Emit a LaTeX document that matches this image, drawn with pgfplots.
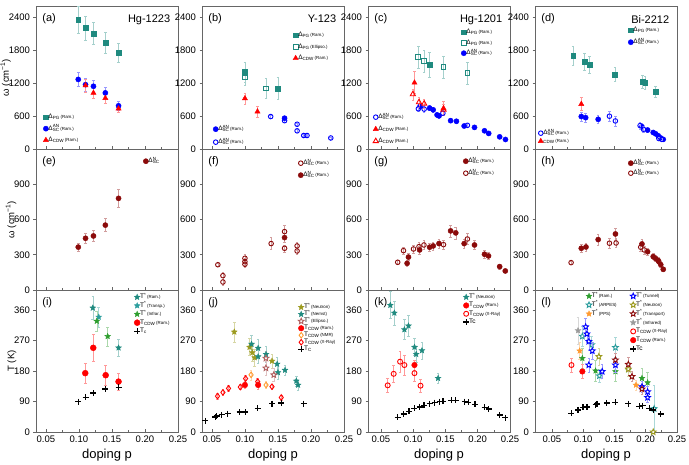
\documentclass[border=0pt]{standalone}
\usepackage{pgfplots}
\pgfplotsset{compat=1.18}
\usepackage{fontspec}
\setmainfont{Liberation Sans}

\definecolor{tl}{HTML}{1F8A7F}
\definecolor{cy}{HTML}{2A9D9D}
\definecolor{bl}{HTML}{0000FF}
\definecolor{rd}{HTML}{FF0000}
\definecolor{dr}{HTML}{8B0A0A}
\definecolor{gr}{HTML}{2E9E2E}
\definecolor{ol}{HTML}{9C9A1E}
\definecolor{og}{HTML}{FF9A30}
\definecolor{gy}{HTML}{9A9A9A}
\definecolor{rb}{HTML}{B06060}

% five-pointed star, filled with the fill colour
\pgfdeclareplotmark{pst}{%
  \pgfpathmoveto{\pgfpointpolar{90}{\pgfplotmarksize}}%
  \pgfpathlineto{\pgfpointpolar{126}{0.45*\pgfplotmarksize}}%
  \pgfpathlineto{\pgfpointpolar{162}{\pgfplotmarksize}}%
  \pgfpathlineto{\pgfpointpolar{198}{0.45*\pgfplotmarksize}}%
  \pgfpathlineto{\pgfpointpolar{234}{\pgfplotmarksize}}%
  \pgfpathlineto{\pgfpointpolar{270}{0.45*\pgfplotmarksize}}%
  \pgfpathlineto{\pgfpointpolar{306}{\pgfplotmarksize}}%
  \pgfpathlineto{\pgfpointpolar{342}{0.45*\pgfplotmarksize}}%
  \pgfpathlineto{\pgfpointpolar{18}{\pgfplotmarksize}}%
  \pgfpathlineto{\pgfpointpolar{54}{0.45*\pgfplotmarksize}}%
  \pgfpathclose
  \pgfusepathqfillstroke}

\newcommand{\rs}[1]{{\fontsize{4.4}{5}\selectfont\,(#1)}}
\newcommand{\Dpg}{Δ\textsubscript{PG}}
\newcommand{\Dan}{Δ\rlap{\textsuperscript{AN}}\textsubscript{SC}}
\newcommand{\Dn}{Δ\rlap{\textsuperscript{N}}\textsubscript{SC}}
\newcommand{\Dcdw}{Δ\textsubscript{CDW}}
\newcommand{\Ts}{T\textsuperscript{*}}
\newcommand{\Tcdw}{T\textsubscript{CDW}}

\tikzset{lab/.style={font=\fontsize{11}{12}\selectfont}}

\pgfplotsset{
  legend image code/.code={\draw[mark repeat=2,mark phase=2,#1]
    plot coordinates {(0pt,0pt)(4pt,0pt)(9pt,0pt)};},
  pan/.style={scale only axis, width=142pt, anchor=south west, xmax=0.25,
    xtick={0.05,0.1,0.15,0.2,0.25}, minor x tick num=1,
    xtick align=inside, ytick align=outside, xtick pos=left, ytick pos=left,
    major tick length=2.5pt, minor tick length=1.5pt,
    axis line style={black!60, line width=0.6pt}, tick style={black!60, line width=0.6pt},
    tick label style={font=\fontsize{9.5}{10}\selectfont},
    /pgf/number format/assume math mode=true,
    xticklabel style={/pgf/number format/.cd, fixed, fixed zerofill, precision=2},
    yticklabel style={/pgf/number format/.cd, fixed, 1000 sep={}},
    ylabel style={font=\fontsize{9.5}{10}\selectfont}, ylabel shift=-9pt,
    xlabel style={font=\fontsize{13}{14}\selectfont}},
  R1/.style={height=143pt, ymin=0, ymax=2600, ytick={0,600,1200,1800,2400}, xticklabels={}},
  R2/.style={height=141pt, ymin=0, ymax=1200, ytick={0,300,600,900}, xticklabels={}},
  R3/.style={height=142pt, ymin=0, ymax=420, ytick={0,90,180,270,360}, xlabel={doping p}},
  ov/.style={hide axis},
  lg/.style n args={2}{legend style={at={#1}, anchor=north west, draw=none, fill=none,
    font=\fontsize{6.5}{7}\selectfont, inner sep=0pt, row sep=#2,
    nodes={inner sep=0pt, text height=4.5pt, text depth=1.5pt}}, legend cell align=left},
  F/.style n args={3}{only marks, mark=#1, mark size=#2, color=#3,
    mark options={solid, fill=#3, line width=0.4pt},
    error bars/.cd, y dir=both, y explicit,
    error bar style={#3!40, line width=0.5pt},
    error mark options={rotate=90, mark size=1.3pt, #3!40, line width=0.5pt}},
  O/.style n args={3}{only marks, mark=#1, mark size=#2, color=#3,
    mark options={solid, fill=white, line width=0.9pt},
    error bars/.cd, y dir=both, y explicit,
    error bar style={#3!40, line width=0.5pt},
    error mark options={rotate=90, mark size=1.3pt, #3!40, line width=0.5pt}},
  TC/.style={only marks, mark=+, mark size=3pt, color=black, mark options={line width=1.3pt}}
}

\begin{document}
\begin{tikzpicture}
\path[use as bounding box] (0,0) rectangle (689pt,465pt);

% ---------------- row 1 ----------------
% (a) Hg-1223
\begin{axis}[pan, R1, xmin=0.035, at={(36pt,316pt)}, ylabel={ω (cm\textsuperscript{−1})},
  lg={(0.05,0.245)}{5.5pt}]
\addplot[F={square*}{2.4pt}{tl}] coordinates {(0.099,2350) +- (0,250) (0.110,2200) +- (0,220)
  (0.122,2100) +- (0,200) (0.140,1930) +- (0,190) (0.160,1755) +- (0,175)};
\addlegendentry{\Dpg\rs{Ram.}}
\addplot[F={*}{2.6pt}{bl}] coordinates {(0.099,1265) +- (0,125) (0.110,1170) +- (0,115)
  (0.122,1140) +- (0,115) (0.140,1020) +- (0,100) (0.160,785) +- (0,80)};
\addlegendentry{\Dan\rs{Ram.}}
\addplot[F={triangle*}{3pt}{rd}] coordinates {(0.110,1155) +- (0,120) (0.122,1020) +- (0,100)
  (0.140,925) +- (0,95) (0.160,735) +- (0,75)};
\addlegendentry{\Dcdw\rs{Ram.}}
\node[lab, anchor=north west] at (rel axis cs:0.02,0.97) {(a)};
\node[lab, anchor=north east] at (rel axis cs:0.97,0.96) {Hg-1223};
\end{axis}

% (b) Y-123
\begin{axis}[pan, R1, xmin=0.035, at={(202pt,316pt)}, lg={(0.64,0.818)}{5.5pt}]
\addplot[F={square*}{2.4pt}{tl}] coordinates {(0.10,1400) +- (0,180) (0.15,1100) +- (0,200)};
\addlegendentry{\Dpg\rs{Ram.}}
\addplot[O={square}{2.4pt}{tl}] coordinates {(0.10,1300) +- (0,150) (0.132,1100) +- (0,180)};
\addlegendentry{\Dpg\rs{Ellipso.}}
\addplot[F={triangle*}{3pt}{rd}] coordinates {(0.10,920) +- (0,100) (0.119,680) +- (0,100)};
\addlegendentry{\Dcdw\rs{Ram.}}
\node[lab, anchor=north west] at (rel axis cs:0.02,0.97) {(b)};
\node[lab, anchor=north east] at (rel axis cs:0.97,0.96) {Y-123};
\end{axis}
\begin{axis}[pan, R1, ov, xmin=0.035, at={(202pt,316pt)}, lg={(0.077,0.161)}{7pt}]
\addplot[F={*}{2.6pt}{bl}] coordinates {(0.16,560) +- (0,25)};
\addlegendentry{\Dan\rs{Ram.}}
\addplot[O={o}{2.3pt}{bl}] coordinates {(0.139,590) +- (0,25) (0.16,515) +- (0,25)
  (0.179,450) +- (0,25) (0.179,330) +- (0,20) (0.189,245) +- (0,15) (0.194,245) +- (0,15)
  (0.23,200) +- (0,15)};
\addlegendentry{\Dan\rs{Ram.}}
\end{axis}

% (c) Hg-1201
\begin{axis}[pan, R1, xmin=0.03, at={(368pt,316pt)}, lg={(0.655,0.839)}{4.5pt}]
\addplot[F={square*}{2.4pt}{tl}] coordinates {(0.1255,1530) +- (0,230)};
\addlegendentry{\Dpg\rs{Ram.}}
\addplot[O={square}{2.4pt}{tl}] coordinates {(0.108,1675) +- (0,200) (0.117,1600) +- (0,200)
  (0.147,1490) +- (0,200) (0.184,1380) +- (0,200)};
\addlegendentry{\Dpg\rs{Ram.}}
\addplot[F={*}{2.6pt}{bl}] coordinates {(0.1105,773) +- (0,45) (0.1255,743) +- (0,45)
  (0.131,712) +- (0,45) (0.137,620) +- (0,40) (0.140,602) +- (0,40) (0.158,515) +- (0,35)
  (0.167,504) +- (0,35) (0.179,418) +- (0,30) (0.195,393) +- (0,30) (0.2105,331) +- (0,25)
  (0.217,283) +- (0,25) (0.234,221) +- (0,20) (0.243,173) +- (0,20)};
\addlegendentry{\Dan\rs{Ram.}}
\node[lab, anchor=north west] at (rel axis cs:0.02,0.97) {(c)};
\node[lab, anchor=north east] at (rel axis cs:0.97,0.96) {Hg-1201};
\end{axis}
\begin{axis}[pan, R1, ov, xmin=0.03, at={(368pt,316pt)}, lg={(0.035,0.245)}{6pt}]
\addplot[O={o}{2.3pt}{bl}] coordinates {(0.108,731) +- (0,50) (0.117,725) +- (0,50)
  (0.146,651) +- (0,45) (0.184,431) +- (0,35)};
\addlegendentry{\Dan\rs{Ram.}}
\addplot[F={triangle*}{3pt}{rd}] coordinates {(0.102,1205) +- (0,200) (0.147,740) +- (0,120)};
\addlegendentry{\Dcdw\rs{Ram.}}
\addplot[O={triangle}{3pt}{rd}] coordinates {(0.0995,995) +- (0,100) (0.109,850) +- (0,90)
  (0.117,825) +- (0,80) (0.147,715) +- (0,100)};
\addlegendentry{\Dcdw\rs{Ram.}}
\end{axis}

% (d) Bi-2212
\begin{axis}[pan, R1, xmin=0.023, at={(535pt,316pt)}, lg={(0.655,0.853)}{6pt}]
\addplot[F={square*}{2.4pt}{tl}] coordinates {(0.084,1695) +- (0,180) (0.102,1590) +- (0,150)
  (0.110,1530) +- (0,150) (0.151,1355) +- (0,130) (0.195,1220) +- (0,120)
  (0.199,1205) +- (0,120) (0.216,1045) +- (0,100)};
\addlegendentry{\Dpg\rs{Ram.}}
\addplot[F={*}{2.6pt}{bl}] coordinates {(0.097,590) +- (0,80) (0.104,570) +- (0,80)
  (0.124,540) +- (0,80) (0.194,405) +- (0,60) (0.203,345) +- (0,40) (0.212,300) +- (0,35)
  (0.216,275) +- (0,30) (0.220,240) +- (0,30) (0.224,200) +- (0,25) (0.228,175) +- (0,25)};
\addlegendentry{\Dan\rs{Ram.}}
\node[lab, anchor=north west] at (rel axis cs:0.02,0.97) {(d)};
\node[lab, anchor=north east] at (rel axis cs:0.97,0.96) {Bi-2212};
\end{axis}
\begin{axis}[pan, R1, ov, xmin=0.023, at={(535pt,316pt)}, lg={(0.021,0.133)}{2pt}]
\addplot[O={o}{2.3pt}{bl}] coordinates {(0.142,596) +- (0,90) (0.1515,510) +- (0,90)
  (0.191,425) +- (0,60) (0.1965,357) +- (0,50) (0.221,190) +- (0,25) (0.2257,175) +- (0,25)};
\addlegendentry{\Dan\rs{Ram.}}
\addplot[F={triangle*}{3pt}{rd}] coordinates {(0.097,817) +- (0,120)};
\addlegendentry{\textsubscript{CDW}\rs{Ram.}}
\end{axis}

% ---------------- row 2 ----------------
% (e)
\begin{axis}[pan, R2, xmin=0.035, at={(36pt,175pt)}, ylabel={ω (cm\textsuperscript{−1})},
  lg={(0.754,0.936)}{6pt}]
\addplot[F={*}{2.6pt}{dr}] coordinates {(0.099,365) +- (0,35) (0.110,440) +- (0,40)
  (0.122,460) +- (0,45) (0.140,552) +- (0,55) (0.160,780) +- (0,75)};
\addlegendentry{\Dn}
\node[lab, anchor=north west] at (rel axis cs:0.02,0.97) {(e)};
\end{axis}

% (f)
\begin{axis}[pan, R2, xmin=0.035, at={(202pt,175pt)}, lg={(0.676,0.922)}{6pt}]
\addplot[O={o}{2.3pt}{dr}] coordinates {(0.059,215) +- (0,15) (0.0667,122) +- (0,30)
  (0.0667,68) +- (0,25) (0.10,270) +- (0,30) (0.10,241) +- (0,30) (0.10,219) +- (0,25)
  (0.1397,395) +- (0,50) (0.16,497) +- (0,50) (0.16,355) +- (0,30) (0.179,375) +- (0,35)
  (0.179,332) +- (0,30)};
\addlegendentry{\Dn\rs{Ram.}}
\addplot[F={*}{2.6pt}{dr}] coordinates {(0.16,446) +- (0,40)};
\addlegendentry{\Dn\rs{Ram.}}
\node[lab, anchor=north west] at (rel axis cs:0.02,0.97) {(f)};
\end{axis}

% (g)
\begin{axis}[pan, R2, xmin=0.03, at={(368pt,175pt)}, lg={(0.669,0.936)}{6pt}]
\addplot[F={*}{2.6pt}{dr}] coordinates {(0.0906,227) +- (0,25) (0.0927,280) +- (0,30)
  (0.110,341) +- (0,35) (0.1255,364) +- (0,35) (0.131,375) +- (0,35) (0.140,395) +- (0,40)
  (0.158,503) +- (0,50) (0.166,486) +- (0,50) (0.179,395) +- (0,40) (0.195,383) +- (0,40)
  (0.2105,304) +- (0,30) (0.2167,290) +- (0,30) (0.234,199) +- (0,20) (0.2427,162) +- (0,15)};
\addlegendentry{\Dn\rs{Ram.}}
\addplot[O={o}{2.3pt}{dr}] coordinates {(0.076,236) +- (0,20) (0.085,335) +- (0,30)
  (0.1005,349) +- (0,35) (0.109,369) +- (0,35) (0.1167,383) +- (0,40) (0.147,386) +- (0,40)
  (0.184,434) +- (0,45)};
\addlegendentry{\Dn\rs{Ram.}}
\node[lab, anchor=north west] at (rel axis cs:0.02,0.97) {(g)};
\end{axis}

% (h)
\begin{axis}[pan, R2, xmin=0.023, at={(535pt,175pt)}, lg={(0.655,0.922)}{4pt}]
\addplot[F={*}{2.6pt}{dr}] coordinates {(0.097,355) +- (0,35) (0.1045,366) +- (0,35)
  (0.124,429) +- (0,45) (0.1516,477) +- (0,50) (0.194,392) +- (0,40) (0.203,326) +- (0,30)
  (0.212,284) +- (0,25) (0.216,267) +- (0,25) (0.220,250) +- (0,25) (0.224,216) +- (0,20)
  (0.228,176) +- (0,18)};
\addlegendentry{\Dn\rs{Ram.}}
\addplot[O={o}{2.3pt}{dr}] coordinates {(0.0807,233) +- (0,15) (0.142,398) +- (0,40)
  (0.1526,400) +- (0,40) (0.192,364) +- (0,35) (0.1976,341) +- (0,35) (0.221,241) +- (0,25)};
\addlegendentry{\Dn\rs{Ram.}}
\node[lab, anchor=north west] at (rel axis cs:0.02,0.97) {(h)};
\end{axis}

% ---------------- row 3 ----------------
% (i)
\begin{axis}[pan, R3, xmin=0.035, at={(36pt,33pt)}, ylabel={T (K)}, lg={(0.69,0.972)}{2.5pt}]
\addplot[F={pst}{3pt}{tl}] coordinates {(0.121,367) +- (0,35) (0.16,249) +- (0,25)};
\addlegendentry{\Ts\rs{Ram.}}
\addplot[F={pst}{3pt}{cy}] coordinates {(0.13,340) +- (0,30)};
\addlegendentry{\Ts\rs{Transp.}}
\addplot[F={pst}{3pt}{gr}] coordinates {(0.127,328) +- (0,30) (0.1435,283) +- (0,28)};
\addlegendentry{\Ts\rs{Infrar.}}
\addplot[F={*}{3pt}{rd}] coordinates {(0.1096,174) +- (0,30) (0.1217,249) +- (0,40)
  (0.1405,168) +- (0,30) (0.16,149) +- (0,25)};
\addlegendentry{\Tcdw\rs{Ram.}}
\addplot[TC] coordinates {(0.099,90) (0.11,103) (0.122,115) (0.14,127) (0.16,132)};
\addlegendentry{T\textsubscript{c}}
\node[lab, anchor=north west] at (rel axis cs:0.02,0.97) {(i)};
\end{axis}

% (j)
\begin{axis}[pan, R3, xmin=0.035, at={(202pt,33pt)}, lg={(0.676,0.901)}{1pt}]
\addplot[F={pst}{3pt}{ol}] coordinates {(0.0839,296) +- (0,30) (0.107,251) +- (0,25)
  (0.1112,235) +- (0,25) (0.1148,220) +- (0,25) (0.141,210) +- (0,20)};
\addlegendentry{\Ts\rs{Neutron}}
\addplot[F={pst}{3pt}{tl}] coordinates {(0.110,260) +- (0,25) (0.12,248) +- (0,25)
  (0.12,223) +- (0,20) (0.132,230) +- (0,25) (0.1488,201) +- (0,20) (0.15,176) +- (0,20)
  (0.1607,183) +- (0,15) (0.1778,151) +- (0,15) (0.1805,139) +- (0,15)};
\addlegendentry{\Ts\rs{Nernst}}
\addplot[O={pst}{3pt}{rb}] coordinates {(0.1318,218) +- (0,20) (0.1318,189) +- (0,20)
  (0.1437,169) +- (0,20)};
\addlegendentry{\Ts\rs{Ellipso.}}
\addplot[F={*}{2.8pt}{rd}] coordinates {(0.10,139) +- (0,10) (0.12,139) +- (0,12)};
\addlegendentry{\Tcdw\rs{Ram.}}
\addplot[O={diamond}{2.8pt}{og}] coordinates {(0.1093,169) +- (0,15) (0.132,139) +- (0,10)};
\addlegendentry{\Tcdw\rs{NMR}}
\addplot[O={diamond}{2.8pt}{rd}] coordinates {(0.0585,106) +- (0,8) (0.0667,117) +- (0,8)
  (0.0752,129) +- (0,8) (0.093,133) +- (0,8) (0.101,158) +- (0,10) (0.1193,149) +- (0,10)
  (0.141,134) +- (0,8) (0.155,102) +- (0,8)};
\addlegendentry{\Tcdw\rs{X-Ray}}
\addplot[TC] coordinates {(0.0398,33) (0.055,44) (0.057,47) (0.065,51) (0.074,54) (0.092,59)
  (0.1006,59) (0.1193,70) (0.141,84) (0.155,86) (0.189,84)};
\addlegendentry{T\textsubscript{C}}
\node[lab, anchor=north west] at (rel axis cs:0.02,0.97) {(j)};
\end{axis}

% (k)
\begin{axis}[pan, R3, xmin=0.03, at={(368pt,33pt)}, lg={(0.669,0.972)}{2.3pt}]
\addplot[F={pst}{3pt}{tl}] coordinates {(0.0646,375) +- (0,40) (0.0708,352) +- (0,35)
  (0.0864,303) +- (0,30) (0.0927,314) +- (0,30) (0.102,251) +- (0,25) (0.1047,230) +- (0,25)
  (0.1136,241) +- (0,25) (0.1386,159) +- (0,15)};
\addlegendentry{\Ts\rs{Neutron}}
\addplot[F={*}{2.8pt}{rd}] coordinates {(0.102,198) +- (0,15)};
\addlegendentry{\Tcdw\rs{Ram.}}
\addplot[O={o}{2.5pt}{rd}] coordinates {(0.0605,138) +- (0,20) (0.0698,172) +- (0,25)
  (0.0797,208) +- (0,30) (0.0864,198) +- (0,30) (0.102,174) +- (0,25) (0.1114,137) +- (0,20)};
\addlegendentry{\Tcdw\rs{X-Ray}}
\addplot[TC] coordinates {(0.076,43) (0.085,53) (0.0933,61) (0.102,70) (0.1099,74) (0.1167,79)
  (0.1255,84) (0.1333,87) (0.141,90) (0.1464,91) (0.159,94) (0.166,94) (0.180,90) (0.1855,88)
  (0.1958,82) (0.2105,73) (0.2167,68) (0.234,50) (0.2427,42)};
\addlegendentry{Tc}
\node[lab, anchor=north west] at (rel axis cs:0.02,0.97) {(k)};
\end{axis}

% (l)
\begin{axis}[pan, R3, xmin=0.023, at={(535pt,33pt)}, lg={(0.359,0.979)}{2.8pt}]
\addplot[F={pst}{3pt}{gr}] coordinates {(0.0987,218) +- (0,30) (0.1198,181) +- (0,30)
  (0.1516,179) +- (0,30) (0.1722,184) +- (0,20) (0.194,159) +- (0,30) (0.203,146) +- (0,30)};
\addlegendentry{\Ts\rs{Ram.}}
\addplot[O={pst}{3pt}{cy}] coordinates {(0.0987,283) +- (0,30) (0.1135,258) +- (0,25)
  (0.126,166) +- (0,20) (0.1516,250) +- (0,30) (0.2135,69) +- (0,70)};
\addlegendentry{\Ts\rs{ARPES}}
\addplot[F={pst}{3pt}{og}] coordinates {(0.0944,240) +- (0,25) (0.1844,139) +- (0,15)};
\addlegendentry{\Ts\rs{PPS}}
\node[lab, anchor=north west] at (rel axis cs:0.02,0.97) {(l)};
\end{axis}
\begin{axis}[pan, R3, ov, xmin=0.023, at={(535pt,33pt)}, lg={(0.669,0.979)}{2.8pt}]
\addplot[O={pst}{3pt}{bl}] coordinates {(0.104,311) +- (0,25) (0.106,290) +- (0,25)
  (0.109,268) +- (0,25) (0.1146,240) +- (0,25) (0.109,198) +- (0,20) (0.1304,179) +- (0,20)
  (0.1516,198) +- (0,20) (0.194,134) +- (0,15) (0.203,119) +- (0,15) (0.203,102) +- (0,15)};
\addlegendentry{\Ts\rs{Tunnel}}
\addplot[O={pst}{3pt}{ol}] coordinates {(0.125,223) +- (0,25) (0.1722,186) +- (0,20)
  (0.212,0) +- (0,5)};
\addlegendentry{\Ts\rs{Neutron}}
\addplot[O={pst}{3pt}{dr}] coordinates {(0.1516,213) +- (0,20) (0.1722,200) +- (0,20)
  (0.178,164) +- (0,15) (0.194,127) +- (0,15)};
\addlegendentry{\Ts\rs{Transport}}
\addplot[F={pst}{3pt}{gy}] coordinates {(0.0918,300) +- (0,40)};
\addlegendentry{\Ts\rs{Infrared}}
\addplot[O={o}{2.5pt}{rd}] coordinates {(0.0813,198) +- (0,20)};
\addlegendentry{\Tcdw\rs{X-Ray}}
\addplot[F={*}{2.8pt}{rd}] coordinates {(0.0987,179) +- (0,20)};
\addlegendentry{\Tcdw\rs{Ram.}}
\addplot[TC] coordinates {(0.0813,55) (0.0918,65) (0.0997,73) (0.106,74) (0.1198,81) (0.1219,83)
  (0.1378,86) (0.1516,88) (0.1722,84) (0.1897,76) (0.195,78) (0.2056,70) (0.212,65) (0.224,53)};
\addlegendentry{Tc}
\end{axis}
\end{tikzpicture}
\end{document}
